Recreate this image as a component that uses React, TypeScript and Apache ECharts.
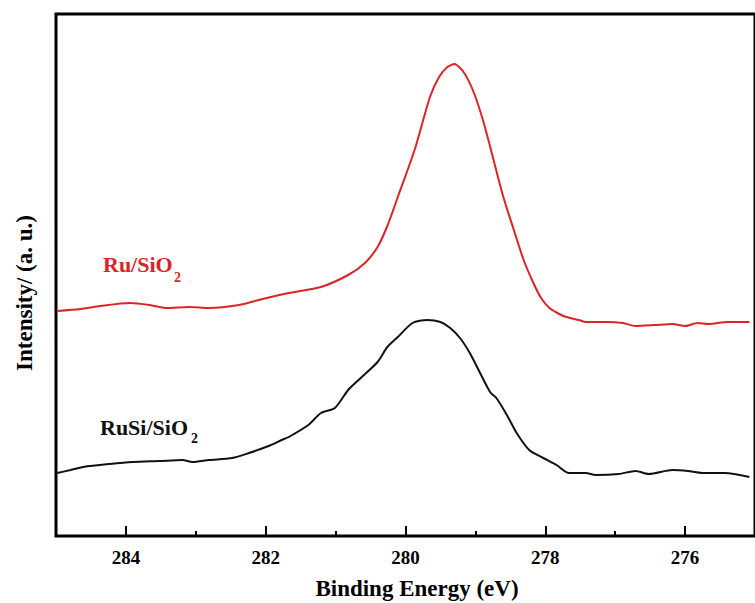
import React, { useEffect, useRef } from "react";
import * as echarts from "echarts";

// Binding energy (eV) and intensity (a. u.)
const ruEnergy = [284.98, 284.65, 284.37, 283.94, 283.66, 283.42, 283.09, 282.81, 282.38, 282.10, 281.67, 281.21, 280.82, 280.58, 280.40, 280.26, 280.11, 279.87, 279.65, 279.52, 279.40, 279.30, 279.16, 279.02, 278.88, 278.74, 278.60, 278.45, 278.31, 278.17, 278.06, 277.94, 277.80, 277.70, 277.52, 277.42, 277.13, 276.89, 276.71, 276.43, 276.18, 276.00, 275.82, 275.67, 275.39, 275.08];
const ruIntensity = [225, 227, 230, 233, 231, 228, 229, 228, 231, 236, 243, 249, 261, 273, 289, 310, 339, 386, 439, 459, 469, 472, 463, 443, 413, 376, 339, 306, 276, 253, 238, 228, 222, 219, 216, 214, 214, 213, 210, 211, 212, 210, 213, 212, 214, 214];

const ruSiEnergy = [284.98, 284.79, 284.61, 284.23, 283.90, 283.52, 283.19, 283.05, 282.81, 282.48, 282.24, 281.96, 281.77, 281.67, 281.39, 281.21, 281.01, 280.82, 280.64, 280.40, 280.26, 280.11, 279.90, 279.69, 279.50, 279.36, 279.22, 279.08, 278.94, 278.79, 278.70, 278.55, 278.41, 278.23, 278.03, 277.84, 277.66, 277.42, 277.28, 276.95, 276.71, 276.52, 276.18, 275.96, 275.76, 275.43, 275.08];
const ruSiIntensity = [63, 66, 69, 72, 74, 75, 76, 74, 76, 78, 83, 90, 96, 99, 111, 123, 128, 146, 158, 174, 189, 199, 213, 216, 214, 208, 198, 183, 164, 144, 138, 121, 103, 86, 78, 71, 63, 63, 61, 62, 65, 62, 66, 65, 63, 63, 59];

const seriesNames = ["Ru/SiO", "RuSi/SiO"];
const subscript = "2";

const xMin = 275;
const xMax = 285;
const yMin = 0;
const yMax = 522;

const FONT = "'Liberation Serif', 'Times New Roman', serif";
const RED = "#dc2427";
const BLACK = "#111";

export default function App() {
  const ref = useRef<HTMLDivElement>(null);
  useEffect(() => {
    if (!ref.current) return;
    const chart = echarts.init(ref.current, null, { renderer: "svg" });
    const ruData = ruEnergy.map((x, i) => [x, ruIntensity[i]]);
    const ruSiData = ruSiEnergy.map((x, i) => [x, ruSiIntensity[i]]);
    const label = (text: string, x: number, y: number, color: string, subX: number, subY: number) => ({
      type: "group",
      children: [
        {
          type: "text",
          x,
          y,
          style: {
            text,
            font: `bold 22px ${FONT}`,
            fill: color,
            textAlign: "left",
            textVerticalAlign: "middle",
          },
        },
        {
          type: "text",
          x: subX,
          y: subY,
          style: {
            text: subscript,
            font: `bold 14px ${FONT}`,
            fill: color,
            textAlign: "left",
            textVerticalAlign: "middle",
          },
        },
      ],
    });
    chart.setOption({
      animation: false,
      backgroundColor: "#fff",
      grid: {
        left: 56,
        right: -3,
        top: 14,
        bottom: 67,
        show: true,
        borderColor: "#000",
        borderWidth: 3,
        backgroundColor: "transparent",
      },
      xAxis: [
        {
          type: "value",
          inverse: true,
          min: xMin,
          max: xMax,
          interval: 1,
          position: "bottom",
          axisLine: { show: false, onZero: false },
          axisTick: { show: true, inside: true, length: 5, lineStyle: { color: "#000", width: 2 } },
          axisLabel: { show: false },
          splitLine: { show: false },
        },
        {
          type: "value",
          inverse: true,
          min: xMin,
          max: xMax,
          splitNumber: 5,
          minInterval: 2,
          maxInterval: 2,
          position: "bottom",
          axisLine: { show: false, onZero: false },
          axisTick: { show: true, inside: true, length: 10, lineStyle: { color: "#000", width: 2 } },
          axisLabel: {
            show: true,
            margin: 12,
            color: "#000",
            fontFamily: FONT,
            fontWeight: "bold",
            fontSize: 19,
            showMinLabel: false,
            showMaxLabel: false,
          },
          splitLine: { show: false },
        },
      ],
      yAxis: {
        type: "value",
        min: yMin,
        max: yMax,
        axisLine: { show: false },
        axisTick: { show: false },
        axisLabel: { show: false },
        splitLine: { show: false },
      },
      series: [
        {
          name: "Ru/SiO2",
          type: "line",
          xAxisIndex: 0,
          data: ruData,
          showSymbol: false,
          smooth: 0.25,
          lineStyle: { color: RED, width: 2 },
          itemStyle: { color: RED },
        },
        {
          name: "RuSi/SiO2",
          type: "line",
          xAxisIndex: 0,
          data: ruSiData,
          showSymbol: false,
          smooth: 0.25,
          lineStyle: { color: BLACK, width: 2 },
          itemStyle: { color: BLACK },
        },
      ],
      graphic: [
        {
          type: "text",
          x: 417,
          y: 588,
          style: {
            text: "Binding Energy (eV)",
            font: `bold 23px ${FONT}`,
            fill: "#000",
            textAlign: "center",
            textVerticalAlign: "middle",
          },
        },
        {
          type: "text",
          x: 24,
          y: 293,
          rotation: Math.PI / 2,
          style: {
            text: "Intensity/ (a. u.)",
            font: `bold 23px ${FONT}`,
            fill: "#000",
            textAlign: "center",
            textVerticalAlign: "middle",
          },
        },
        label(seriesNames[0], 103, 264, RED, 174, 277),
        label(seriesNames[1], 100, 427, BLACK, 191, 438),
      ],
    });
    return () => chart.dispose();
  }, []);
  return (
    <div
      ref={ref}
      style={{ position: "fixed", left: 0, top: 0, width: 755, height: 603, background: "#fff" }}
    />
  );
}
